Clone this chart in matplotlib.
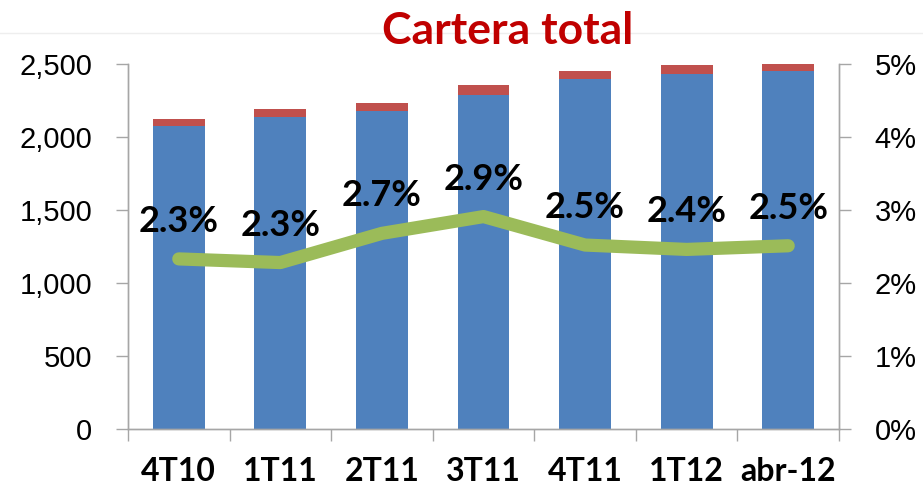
import matplotlib
matplotlib.use('Agg')
import matplotlib.pyplot as plt
from matplotlib.lines import Line2D
import numpy as np

# datos
periodos = ['4T10', '1T11', '2T11', '3T11', '4T11', '1T12', 'abr-12']
cartera_vigente = [2075, 2139, 2180, 2286, 2397, 2432, 2454]
cartera_vencida = [48, 51, 55, 70, 57, 63, 48]
indice_morosidad = [2.33, 2.28, 2.68, 2.91, 2.52, 2.46, 2.51]
etiquetas_pct = ['2.3%', '2.3%', '2.7%', '2.9%', '2.5%', '2.4%', '2.5%']
ticks_izq = [0, 500, 1000, 1500, 2000, 2500]
ticks_der = [0, 1, 2, 3, 4, 5]

AZUL = '#4F81BD'
ROJO = '#C0504D'
VERDE = '#9BBB59'
GRIS = '#A6A6A6'

fuente = 'Liberation Sans'
fuente_negrita = ['Lato', 'DejaVu Sans']

fig = plt.figure(figsize=(9.23, 4.86), dpi=100)
ax = fig.add_axes([128/923, 1-429/486, (839-128)/923, (429-64)/486])
ax2 = ax.twinx()

x = np.arange(len(periodos))
ax.bar(x, cartera_vigente, width=0.51, color=AZUL, zorder=2)
ax.bar(x, cartera_vencida, width=0.51, bottom=cartera_vigente, color=ROJO, zorder=2)

ax.set_xlim(-0.5, len(periodos) - 0.5)
ax.set_ylim(0, 2500)
ax.set_yticks(ticks_izq)
ax.set_yticklabels(['{:,}'.format(v) for v in ticks_izq], fontsize=21, family=fuente)

ax.set_xticks(x)
ax.set_xticklabels(periodos, fontsize=23, fontweight='bold', family=fuente_negrita)
ax.set_xticks(np.arange(-0.5, len(periodos)), minor=True)
ax.tick_params(axis='x', which='major', length=0, pad=20.5)
ax.tick_params(axis='x', which='minor', length=8.6, color=GRIS, width=1)
ax.tick_params(axis='y', length=8.6, color=GRIS, width=1, pad=17)

# linea de morosidad en eje secundario
ax2.plot(x, indice_morosidad, color=VERDE, lw=9.5, solid_capstyle='round',
         solid_joinstyle='round', zorder=3)
ax2.set_ylim(0, 5)
ax2.set_yticks(ticks_der)
ax2.set_yticklabels(['{}%'.format(v) for v in ticks_der], fontsize=21, family=fuente)
ax2.tick_params(axis='y', length=8.6, color=GRIS, width=1, pad=17)

for xi, yi, txt in zip(x, indice_morosidad, etiquetas_pct):
    ax2.annotate(txt, (xi, yi), xytext=(0, 27), textcoords='offset points',
                 ha='center', va='center', fontsize=26, fontweight='bold',
                 family=fuente_negrita, zorder=4)

for a in (ax, ax2):
    a.spines['top'].set_visible(False)
    for s in ('left', 'right', 'bottom'):
        a.spines[s].set_color(GRIS)
        a.spines[s].set_linewidth(1)

# linea tenue de fondo detras del titulo
fig.add_artist(Line2D([0, 1], [1-33/486, 1-33/486], color='#EEEEEE', lw=1, zorder=0))
fig.text(508/923, 1-31/486, 'Cartera total', ha='center', va='center',
         fontsize=32, fontweight='bold', color='#C00000', family=fuente_negrita)

fig.savefig('out.png', dpi=100)
